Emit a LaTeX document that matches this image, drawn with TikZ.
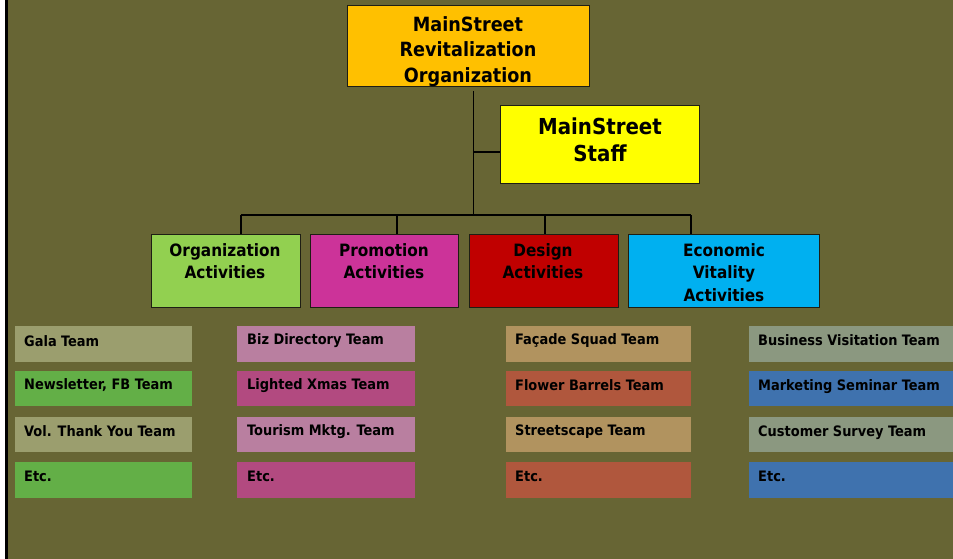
\documentclass[tikz,border=0pt]{standalone}
\usepackage{fontspec}
\setmainfont{DejaVu Sans Condensed}
\usetikzlibrary{calc}

\definecolor{olivebg}{HTML}{676534}
\definecolor{orgtop}{HTML}{FFC000}
\definecolor{staffc}{HTML}{FFFF00}
\definecolor{orgact}{HTML}{92D050}
\definecolor{promact}{HTML}{CC3399}
\definecolor{desact}{HTML}{C00000}
\definecolor{ecoact}{HTML}{00B0F0}
\definecolor{tOrgA}{HTML}{9B9E6E}
\definecolor{tOrgB}{HTML}{63AF47}
\definecolor{tProA}{HTML}{B97FA0}
\definecolor{tProB}{HTML}{B24A80}
\definecolor{tDesA}{HTML}{B1935F}
\definecolor{tDesB}{HTML}{B0573D}
\definecolor{tEcoA}{HTML}{8B9880}
\definecolor{tEcoB}{HTML}{3F72AE}
\definecolor{edge}{HTML}{1E1E14}

\begin{document}
\begin{tikzpicture}[x=1pt,y=-1pt,
  box/.style={draw=edge,line width=1pt,inner sep=0pt,minimum width=#1},
  label/.style={inner sep=0pt,align=center,anchor=north,font=\bfseries},
  teambox/.style={inner sep=0pt,minimum height=36pt,anchor=north west},
  teamtxt/.style={inner sep=0pt,anchor=west,font=\bfseries\fontsize{14.4}{16}\selectfont},
  wire/.style={draw=black,line width=1.1pt}]

% page and background
\useasboundingbox (0,0) rectangle (953,559);
\fill[white] (0,0) rectangle (953,559);
\fill[olivebg] (8,0) rectangle (953,559);
\fill[black] (5,0) rectangle (8,559);

% top level boxes
\node[box=242pt,minimum height=81pt,fill=orgtop,anchor=north west] (top) at (347,5) {};
\node[label,font=\bfseries\fontsize{19.6}{25.5}\selectfont] (toptxt) at (468,16)
  {MainStreet\\Revitalization\\Organization};

\node[box=199pt,minimum height=78pt,fill=staffc,anchor=north west] (staff) at (500,105) {};
\node[label,font=\bfseries\fontsize{22}{27}\selectfont] (stafftxt) at (600,118)
  {MainStreet\\Staff};

% activity boxes
\node[box=149pt,minimum height=73pt,fill=orgact,anchor=north west] (org) at (151,234) {};
\node[box=148pt,minimum height=73pt,fill=promact,anchor=north west] (pro) at (310,234) {};
\node[box=149pt,minimum height=73pt,fill=desact,anchor=north west] (des) at (469,234) {};
\node[box=191pt,minimum height=73pt,fill=ecoact,anchor=north west] (eco) at (628,234) {};

\begin{scope}[every node/.append style={label,font=\bfseries\fontsize{17}{22.8}\selectfont}]
\node (orgtxt) at (225,243) {Organization\\Activities};
\node (protxt) at (384,243) {Promotion\\Activities};
\node (destxt) at (543,243) {Design\\Activities};
\node (ecotxt) at (724,243) {Economic\\Vitality\\Activities};
\end{scope}

% connectors
\coordinate (trunk) at (473,215);
\coordinate (staffj) at (473,152);
\draw[wire] ($(top.south)+(5,4)$) |- (trunk);
\draw[wire] (staffj) -- (staff.west |- staffj);
\draw[wire] (241,215) -- (691,215);
\draw[wire] (241,215) -- (241,234);
\draw[wire] (397,215) -- (397,234);
\draw[wire] (545,215) -- (545,234);
\draw[wire] (691,215) -- (691,234);

% team boxes, column by column
\foreach \cx/\w/\ca/\cb/\col in {15/177/tOrgA/tOrgB/1, 237/178/tProA/tProB/2, 506/185/tDesA/tDesB/3, 749/220/tEcoA/tEcoB/4}{
  \node[teambox,minimum width=\w pt,fill=\ca] (b\col1) at (\cx,326) {};
  \node[teambox,minimum width=\w pt,fill=\cb,minimum height=35pt] (b\col2) at (\cx,371) {};
  \node[teambox,minimum width=\w pt,fill=\ca,minimum height=35pt] (b\col3) at (\cx,417) {};
  \node[teambox,minimum width=\w pt,fill=\cb] (b\col4) at (\cx,462) {};
}

\node[teamtxt] (t11) at ([xshift=9pt,yshift=3.5pt]b11.west) {Gala Team};
\node[teamtxt] (t12) at ([xshift=9pt,yshift=3.5pt]b12.west) {Newsletter, FB Team};
\node[teamtxt] (t13) at ([xshift=9pt,yshift=3.5pt]b13.west) {Vol. Thank You Team};
\node[teamtxt] (t14) at ([xshift=9pt,yshift=3.5pt]b14.west) {Etc.};

\node[teamtxt] (t21) at ([xshift=10pt,yshift=3.5pt]b21.west) {Biz Directory Team};
\node[teamtxt] (t22) at ([xshift=10pt,yshift=3.5pt]b22.west) {Lighted Xmas Team};
\node[teamtxt] (t23) at ([xshift=10pt,yshift=3.5pt]b23.west) {Tourism Mktg. Team};
\node[teamtxt] (t24) at ([xshift=10pt,yshift=3.5pt]b24.west) {Etc.};

\node[teamtxt] (t31) at ([xshift=9pt,yshift=3.5pt]b31.west) {Façade Squad Team};
\node[teamtxt] (t32) at ([xshift=9pt,yshift=3.5pt]b32.west) {Flower Barrels Team};
\node[teamtxt] (t33) at ([xshift=9pt,yshift=3.5pt]b33.west) {Streetscape Team};
\node[teamtxt] (t34) at ([xshift=9pt,yshift=3.5pt]b34.west) {Etc.};

\begin{scope}[every node/.append style={font=\bfseries\fontsize{13.5}{15}\selectfont}]
\node[teamtxt] (t41) at ([xshift=9pt,yshift=4pt]b41.west) {Business Visitation Team};
\node[teamtxt] (t42) at ([xshift=9pt,yshift=2.5pt]b42.west) {Marketing Seminar Team};
\node[teamtxt] (t43) at ([xshift=9pt,yshift=1.5pt]b43.west) {Customer Survey Team};
\node[teamtxt] (t44) at ([xshift=9pt,yshift=3.5pt]b44.west) {Etc.};
\end{scope}
\end{tikzpicture}
\end{document}
